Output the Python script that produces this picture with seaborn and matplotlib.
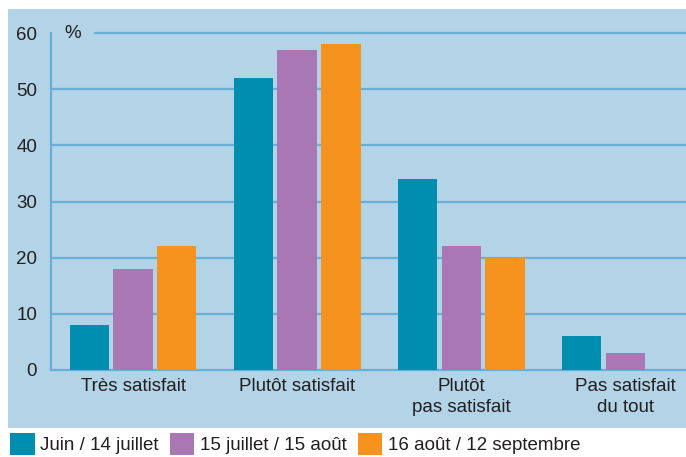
import pandas as pd
import seaborn as sns
import matplotlib.pyplot as plt
from matplotlib.patches import Rectangle, Patch

# Data
categories = ["Très satisfait", "Plutôt satisfait", "Plutôt\npas satisfait", "Pas satisfait\ndu tout"]
periods = ["Juin / 14 juillet", "15 juillet / 15 août", "16 août / 12 septembre"]
juin_juillet = [8, 52, 34, 6]
juillet_aout = [18, 57, 22, 3]
aout_sept = [22, 58, 20, 0]
y_ticks = [0, 10, 20, 30, 40, 50, 60]

colors = ["#008eb0", "#a877b4", "#f6931e"]
panel_bg = "#b3d4e7"
grid_col = "#66afd6"
text_col = "#231f20"

rows = []
for per, vals in zip(periods, [juin_juillet, juillet_aout, aout_sept]):
    for cat, v in zip(categories, vals):
        rows.append({"categorie": cat, "periode": per, "valeur": v})
df = pd.DataFrame(rows)

sns.set_style("white")
plt.rcParams['font.family'] = ['Liberation Sans', 'DejaVu Sans']

W, H = 686, 457
fig = plt.figure(figsize=(W / 100, H / 100), dpi=100)
fig.patches.append(Rectangle((8 / W, 1 - 428 / H), 1 - 8 / W, (428 - 9) / H,
                             transform=fig.transFigure, facecolor=panel_bg,
                             edgecolor='none', zorder=-5))

ax = fig.add_axes([51 / W, 1 - 370 / H, 1 - 51 / W, (370 - 33) / H])
ax.set_facecolor('none')

sns.barplot(data=df, x="categorie", y="valeur", hue="periode", palette=colors,
            width=0.8, gap=0.1, ax=ax, legend=False, zorder=3, saturation=1,
            linewidth=0)

ax.set_xlim(-0.5, 3.37)
ax.set_ylim(0, 60)

# gridlines (60 line starts after the % sign)
for t in y_ticks[1:]:
    start = (95 - 51) / (W - 51) if t == 60 else 0
    ax.axhline(t, xmin=start, xmax=1, color=grid_col, lw=1.6, zorder=1, clip_on=False)

ax.set_yticks(y_ticks)
ax.set_yticklabels([str(t) for t in y_ticks], fontsize=13.5, color=text_col)
ax.tick_params(axis='y', length=0, pad=10)
ax.tick_params(axis='x', length=0, pad=6, labelsize=13.5, labelcolor=text_col)
ax.set_xticks(range(len(categories)))
ax.set_xticklabels(categories, linespacing=1.3)
ax.set_xticks([0.5, 1.5, 2.5], minor=True)
ax.tick_params(axis='x', which='minor', direction='in', length=5, width=1.6, color=grid_col)

for side in ['top', 'right']:
    ax.spines[side].set_visible(False)
for side in ['left', 'bottom']:
    ax.spines[side].set_color(grid_col)
    ax.spines[side].set_linewidth(1.6)
ax.set_xlabel("")
ax.set_ylabel("")

ax.text((64 - 51) / (W - 51), 1.0, "%", transform=ax.transAxes, fontsize=13.5,
        color=text_col, va='center', ha='left')

handles = [Patch(facecolor=c, edgecolor='none') for c in colors]
fig.legend(handles, periods, loc='center left', bbox_to_anchor=(-0.007, 1 - 444 / H),
           ncol=3, frameon=False, fontsize=13.5, handlelength=1.3, handleheight=1.4,
           handletextpad=0.3, columnspacing=0.6, borderaxespad=0.4, labelcolor=text_col)

fig.savefig("out.png", dpi=100)
